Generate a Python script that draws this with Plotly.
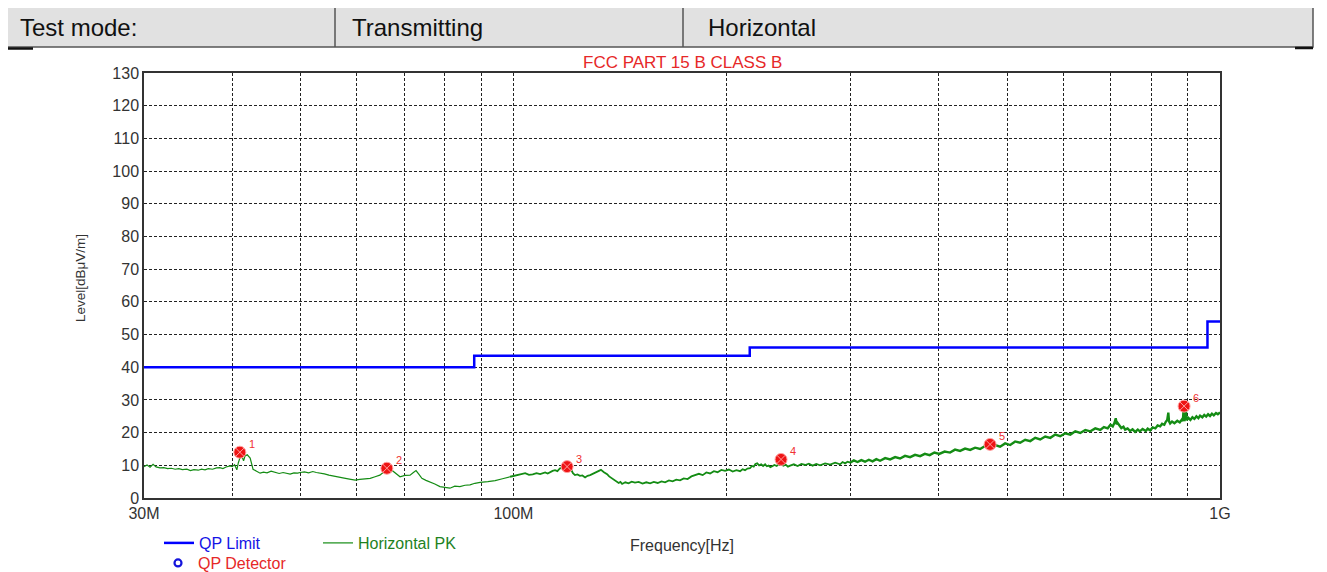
import math
import plotly.graph_objects as go

# ---------------- data ----------------
freq_mhz = [
    30.0, 30.3, 30.6, 30.9, 31.2, 31.6, 32.0, 32.4, 32.8, 33.2, 33.6, 34.0, 34.5, 34.9, 35.3, 35.8,
    36.2, 36.6, 37.0, 37.5, 38.0, 38.4, 38.8, 39.2, 39.7, 40.0, 40.3, 40.6, 40.8, 41.0, 41.3, 41.5,
    41.7, 42.0, 42.4, 42.6, 42.8, 43.3, 43.8, 44.3, 44.8, 45.4, 46.0, 46.6, 47.2, 47.8, 48.3, 48.9,
    49.5, 49.9, 50.6, 51.3, 52.0, 52.6, 53.3, 54.0, 54.8, 55.6, 56.8, 57.6, 58.6, 59.7, 60.6, 61.6,
    62.7, 63.7, 64.7, 65.4, 66.2, 67.0, 68.0, 69.1, 70.2, 71.4, 72.1, 72.8, 73.5, 74.2, 75.2, 76.2,
    77.4, 78.7, 80.0, 81.3, 82.6, 84.0, 85.4, 86.8, 88.2, 89.7, 92.0, 94.2, 96.5, 98.9,
    101.4, 102.6, 103.9, 105.2, 106.5, 107.8, 109.1, 110.9, 111.8, 112.7, 113.6, 114.5, 115.4, 116.4,
    117.8, 119.1, 120.6, 121.4, 122.2, 123.2, 124.2, 125.2, 126.3, 127.3, 128.4, 129.5, 130.5, 131.8,
    133.0, 134.3, 135.7, 136.6, 137.5, 138.4, 139.3, 140.1, 140.9, 141.7, 142.5, 144.0, 145.5, 147.0,
    148.6, 150.4, 152.3, 154.2, 156.1, 158.0, 160.0, 162.0, 163.9, 166.0, 168.0, 170.0, 172.1, 174.2,
    176.4, 178.6, 180.8, 183.0, 185.3, 187.5, 189.8, 192.2, 194.5, 196.9, 199.3, 201.8, 204.3, 206.8,
    209.3, 211.0, 212.7, 214.4, 216.2, 217.5, 218.8, 220.0, 221.3, 222.7, 224.2, 225.6, 227.1, 228.4,
    229.7, 231.0, 232.4, 234.1, 235.8, 237.5, 239.2, 241.0, 242.8, 244.6, 246.4, 249.4, 252.5, 255.6,
    258.7, 261.9, 265.1, 268.3, 271.6, 276.1, 280.7, 285.3, 289.9, 292.3, 294.7, 297.1, 299.5,
    303.2, 306.9, 310.7, 314.5, 318.4, 322.3, 326.3, 330.3, 335.8, 341.3, 346.9, 352.5, 358.3, 364.2,
    370.2, 376.3, 382.2, 388.2, 394.3, 400.5, 407.6, 414.9, 421.7, 428.6, 435.7, 443.0, 450.2, 457.6,
    465.1, 472.7, 480.5, 488.4, 496.5, 504.7, 513.0, 521.4, 530.0, 538.8, 547.6, 556.6, 565.8, 575.2,
    584.6, 594.1, 604.0, 614.0, 624.0, 634.2, 644.7, 655.4, 666.0, 676.9, 685.0, 693.5, 700.0, 705.0,
    709.0, 712.0, 714.0, 716.0, 720.0, 725.0, 730.0, 734.0, 740.0, 746.0, 752.0, 758.4, 765.0, 770.0,
    777.0, 785.0, 790.0, 796.6, 803.0, 810.0, 816.0, 822.9, 828.0, 834.0, 838.0, 842.0, 845.0, 847.0,
    850.0, 855.4, 862.0, 870.0, 877.0, 883.0, 886.0, 888.0, 890.0, 893.0, 895.0, 897.0, 902.0, 908.0,
    914.0, 920.0, 926.0, 932.0, 937.2, 944.0, 950.0, 956.0, 962.0, 968.0, 974.0, 980.0, 987.0, 993.0,
    1000.0,
]
level_dbuv = [
    9.6, 10.1, 9.4, 10.3, 9.5, 9.2, 9.3, 9.0, 9.1, 8.8, 9.0, 8.7, 8.8, 8.4, 8.7, 8.5,
    8.8, 8.6, 9.0, 8.8, 9.2, 9.3, 9.0, 9.5, 9.8, 9.6, 10.2, 8.6, 10.8, 12.2, 12.6, 11.4,
    12.9, 13.2, 12.2, 10.4, 8.8, 8.2, 7.6, 7.9, 7.7, 8.2, 7.9, 7.5, 7.8, 7.4, 7.3, 7.7,
    7.6, 7.8, 8.0, 7.7, 8.1, 7.8, 7.7, 7.4, 7.0, 6.8, 6.3, 6.1, 5.8, 5.5, 5.7, 5.8,
    6.0, 6.5, 7.0, 7.8, 8.6, 8.8, 7.6, 6.5, 6.9, 7.0, 7.7, 8.4, 7.2, 6.0, 5.4, 5.0,
    4.3, 3.5, 3.2, 3.0, 3.6, 3.5, 3.9, 4.0, 4.5, 4.8, 5.0, 5.3, 5.9, 6.5,
    6.9, 7.3, 7.6, 7.1, 7.2, 7.6, 7.3, 7.8, 7.5, 8.0, 8.3, 8.5, 8.2, 9.1,
    9.4, 9.5, 8.8, 7.6, 7.0, 7.2, 6.8, 6.9, 6.3, 6.8, 7.0, 7.4, 7.6, 8.2,
    8.6, 7.9, 7.3, 6.6, 6.2, 5.8, 5.3, 5.1, 4.6, 4.9, 4.3, 4.8, 4.5, 5.0,
    4.7, 4.9, 4.4, 4.8, 4.5, 4.9, 4.6, 5.1, 4.8, 5.4, 5.1, 5.6, 5.4, 6.0,
    5.8, 6.6, 6.9, 7.4, 7.0, 7.8, 7.5, 8.2, 7.9, 8.6, 8.3, 8.7, 8.1, 8.5,
    8.2, 8.8, 8.5, 9.0, 9.1, 9.8, 9.6, 10.4, 10.6, 10.0, 10.3, 9.8, 10.3, 9.7,
    9.9, 9.4, 9.7, 10.1, 9.8, 10.4, 10.3, 9.9, 10.2, 9.6, 9.9, 10.3, 9.8, 10.4,
    10.1, 10.5, 9.9, 10.4, 10.0, 10.6, 10.2, 10.8, 10.3, 11.0, 10.6, 11.1, 10.8,
    11.5, 11.0, 11.6, 11.1, 11.7, 11.2, 11.9, 11.4, 12.2, 11.8, 12.5, 12.1, 12.9, 12.5,
    13.2, 12.8, 13.5, 13.1, 13.9, 13.5, 14.2, 13.9, 14.8, 14.4, 15.1, 14.7, 15.4, 15.0,
    15.9, 15.5, 16.2, 15.7, 16.7, 16.2, 17.3, 16.9, 17.8, 17.4, 18.4, 17.9, 18.8, 18.4,
    19.4, 18.9, 19.8, 19.4, 20.4, 19.9, 20.8, 20.4, 21.3, 20.8, 21.7, 21.3, 22.4, 21.9,
    23.0, 24.4, 22.5, 23.0, 22.1, 21.4, 21.8, 20.9, 21.3, 20.5, 21.0, 20.2, 20.9, 20.4,
    21.1, 20.5, 21.2, 20.7, 21.6, 21.3, 22.2, 21.9, 22.7, 22.4, 23.3, 23.9, 26.1, 23.4,
    22.8, 23.4, 22.9, 23.6, 23.1, 24.0, 23.5, 26.9, 23.6, 24.2, 26.5, 23.8, 24.5, 23.9,
    24.7, 24.2, 25.0, 24.4, 25.2, 24.7, 25.4, 24.9, 25.6, 25.1, 25.8, 25.3, 26.0, 25.6,
    26.2,
]

limit_freq_mhz = [30, 88, 216, 960, 1000]
limit_level = [40, 43.5, 46, 54, 54]

peak_freq_mhz = [41.0, 66.2, 119.1, 239.2, 472.7, 889.5]
peak_level = [14.0, 9.1, 9.6, 11.8, 16.4, 28.1]
peak_labels = ["1", "2", "3", "4", "5", "6"]

x_tick_mhz = [30, 40, 50, 60, 70, 80, 90, 100, 200, 300, 400, 500, 600, 700, 800, 900, 1000]
x_tick_text = {30: "30M", 100: "100M", 1000: "1G"}

header_cells = ["Test mode:", "Transmitting", "Horizontal"]
chart_title = "FCC PART 15 B CLASS B"

# ---------------- layout geometry (reference pixels) ----------------
OFF = 8                      # page body margin
W, H = 1327 - OFF, 572 - OFF
L, R, T, B = 144, 1220, 73, 498
FONT = "Liberation Sans, Arial, sans-serif"


def px(x):
    return (x - L) / (R - L)


def py(y):
    return (B - y) / (B - T)


fig = go.Figure()

fig.add_trace(go.Scatter(
    x=[f * 1e6 for f in limit_freq_mhz], y=limit_level, mode="lines",
    line=dict(color="rgb(0,0,255)", width=2.5, shape="hv"),
    name='<span style="color:rgb(20,20,230)">QP Limit</span>', legend="legend",
))

segments = [(30, 100, 1.2), (98.9, 300, 1.8), (299.5, 1000, 2.4)]
for i, (lo, hi, w) in enumerate(segments):
    xs = [f * 1e6 for f in freq_mhz if lo <= f <= hi]
    ys = [v for f, v in zip(freq_mhz, level_dbuv) if lo <= f <= hi]
    fig.add_trace(go.Scatter(
        x=xs, y=ys, mode="lines", line=dict(color="rgb(20,140,20)", width=w),
        name='<span style="color:rgb(30,130,30)">Horizontal PK</span>',
        legendgroup="pk", showlegend=(i == 0), legend="legend",
    ))

fig.add_trace(go.Scatter(
    x=[None], y=[None], mode="markers",
    marker=dict(symbol="circle-open", color="rgb(20,20,220)", size=7, line=dict(width=2.2)),
    name='<span style="color:rgb(230,40,40)">QP Detector</span>', legend="legend2",
))

fig.add_trace(go.Scatter(
    x=[f * 1e6 for f in peak_freq_mhz], y=peak_level, mode="markers",
    marker=dict(symbol="circle-x", size=12, color="rgb(238,20,20)",
                line=dict(color="rgb(255,160,160)", width=1)),
    showlegend=False,
))

fig.update_xaxes(
    type="log", range=[math.log10(30e6), 9.0],
    tickvals=[v * 1e6 for v in x_tick_mhz],
    ticktext=[x_tick_text.get(v, "") for v in x_tick_mhz],
    showgrid=True, gridcolor="#222", griddash="3px,2px", gridwidth=1,
    showline=True, linecolor="#333", linewidth=1.5, mirror=True,
    ticks="", ticklen=4, tickfont=dict(size=16, color="#333", family=FONT),
    zeroline=False,
)
fig.update_yaxes(
    range=[0, 130], dtick=10,
    showgrid=True, gridcolor="#222", griddash="3px,2px", gridwidth=1,
    showline=True, linecolor="#333", linewidth=1.5, mirror=True,
    ticks="", tickfont=dict(size=16, color="#333", family=FONT),
    zeroline=False,
)

shapes = [
    dict(type="rect", xref="paper", yref="paper", x0=px(5), x1=px(1313), y0=py(5), y1=py(47),
         fillcolor="#e1e1e1", line=dict(color="#555", width=1.5), layer="below"),
    dict(type="line", xref="paper", yref="paper", x0=px(335), x1=px(335), y0=py(5), y1=py(47),
         line=dict(color="#555", width=1.5)),
    dict(type="line", xref="paper", yref="paper", x0=px(683), x1=px(683), y0=py(5), y1=py(47),
         line=dict(color="#555", width=1.5)),
    dict(type="line", xref="paper", yref="paper", x0=px(5), x1=px(33), y0=py(48.5), y1=py(48.5),
         line=dict(color="#111", width=2.5)),
    dict(type="line", xref="paper", yref="paper", x0=px(1295), x1=px(1313), y0=py(48), y1=py(48),
         line=dict(color="#111", width=2.5)),
]

annotations = []
for txt, xl in zip(header_cells, [18, 350, 706]):
    annotations.append(dict(text=txt, x=px(xl), y=py(27), xref="paper", yref="paper",
                            xanchor="left", yanchor="middle", showarrow=False,
                            font=dict(size=24, color="#111", family=FONT)))
annotations.append(dict(text=chart_title, x=0.5, y=py(62), xref="paper", yref="paper",
                        xanchor="center", yanchor="middle", showarrow=False,
                        font=dict(size=17, color="rgb(230,40,40)", family=FONT)))
annotations.append(dict(text="Level[dBμV/m]", x=px(80), y=py(278), xref="paper", yref="paper",
                        xanchor="center", yanchor="middle", showarrow=False, textangle=-90,
                        font=dict(size=13.5, color="#333", family=FONT)))
annotations.append(dict(text="Frequency[Hz]", x=px(682), y=py(545), xref="paper", yref="paper",
                        xanchor="center", yanchor="middle", showarrow=False,
                        font=dict(size=16, color="#333", family=FONT)))
for f, v, lab in zip(peak_freq_mhz, peak_level, peak_labels):
    annotations.append(dict(text=lab, x=math.log10(f * 1e6), y=v, xref="x", yref="y",
                            xanchor="center", yanchor="middle", xshift=12, yshift=8,
                            showarrow=False,
                            font=dict(size=11, color="rgb(240,50,50)", family=FONT)))

fig.update_layout(
    width=W, height=H,
    margin=dict(l=L - OFF, r=W - (R - OFF), t=T - OFF, b=H - (B - OFF), autoexpand=False),
    plot_bgcolor="white", paper_bgcolor="white",
    shapes=shapes, annotations=annotations,
    legend=dict(orientation="h", x=px(159), y=py(526), xanchor="left", yanchor="top",
                entrywidth=114, entrywidthmode="pixels", bgcolor="rgba(0,0,0,0)",
                font=dict(size=16, family=FONT), tracegroupgap=0),
    legend2=dict(orientation="h", x=px(158), y=py(546), xanchor="left", yanchor="top",
                 bgcolor="rgba(0,0,0,0)", font=dict(size=16, family=FONT)),
    showlegend=True,
)

fig.write_html("out.html")
